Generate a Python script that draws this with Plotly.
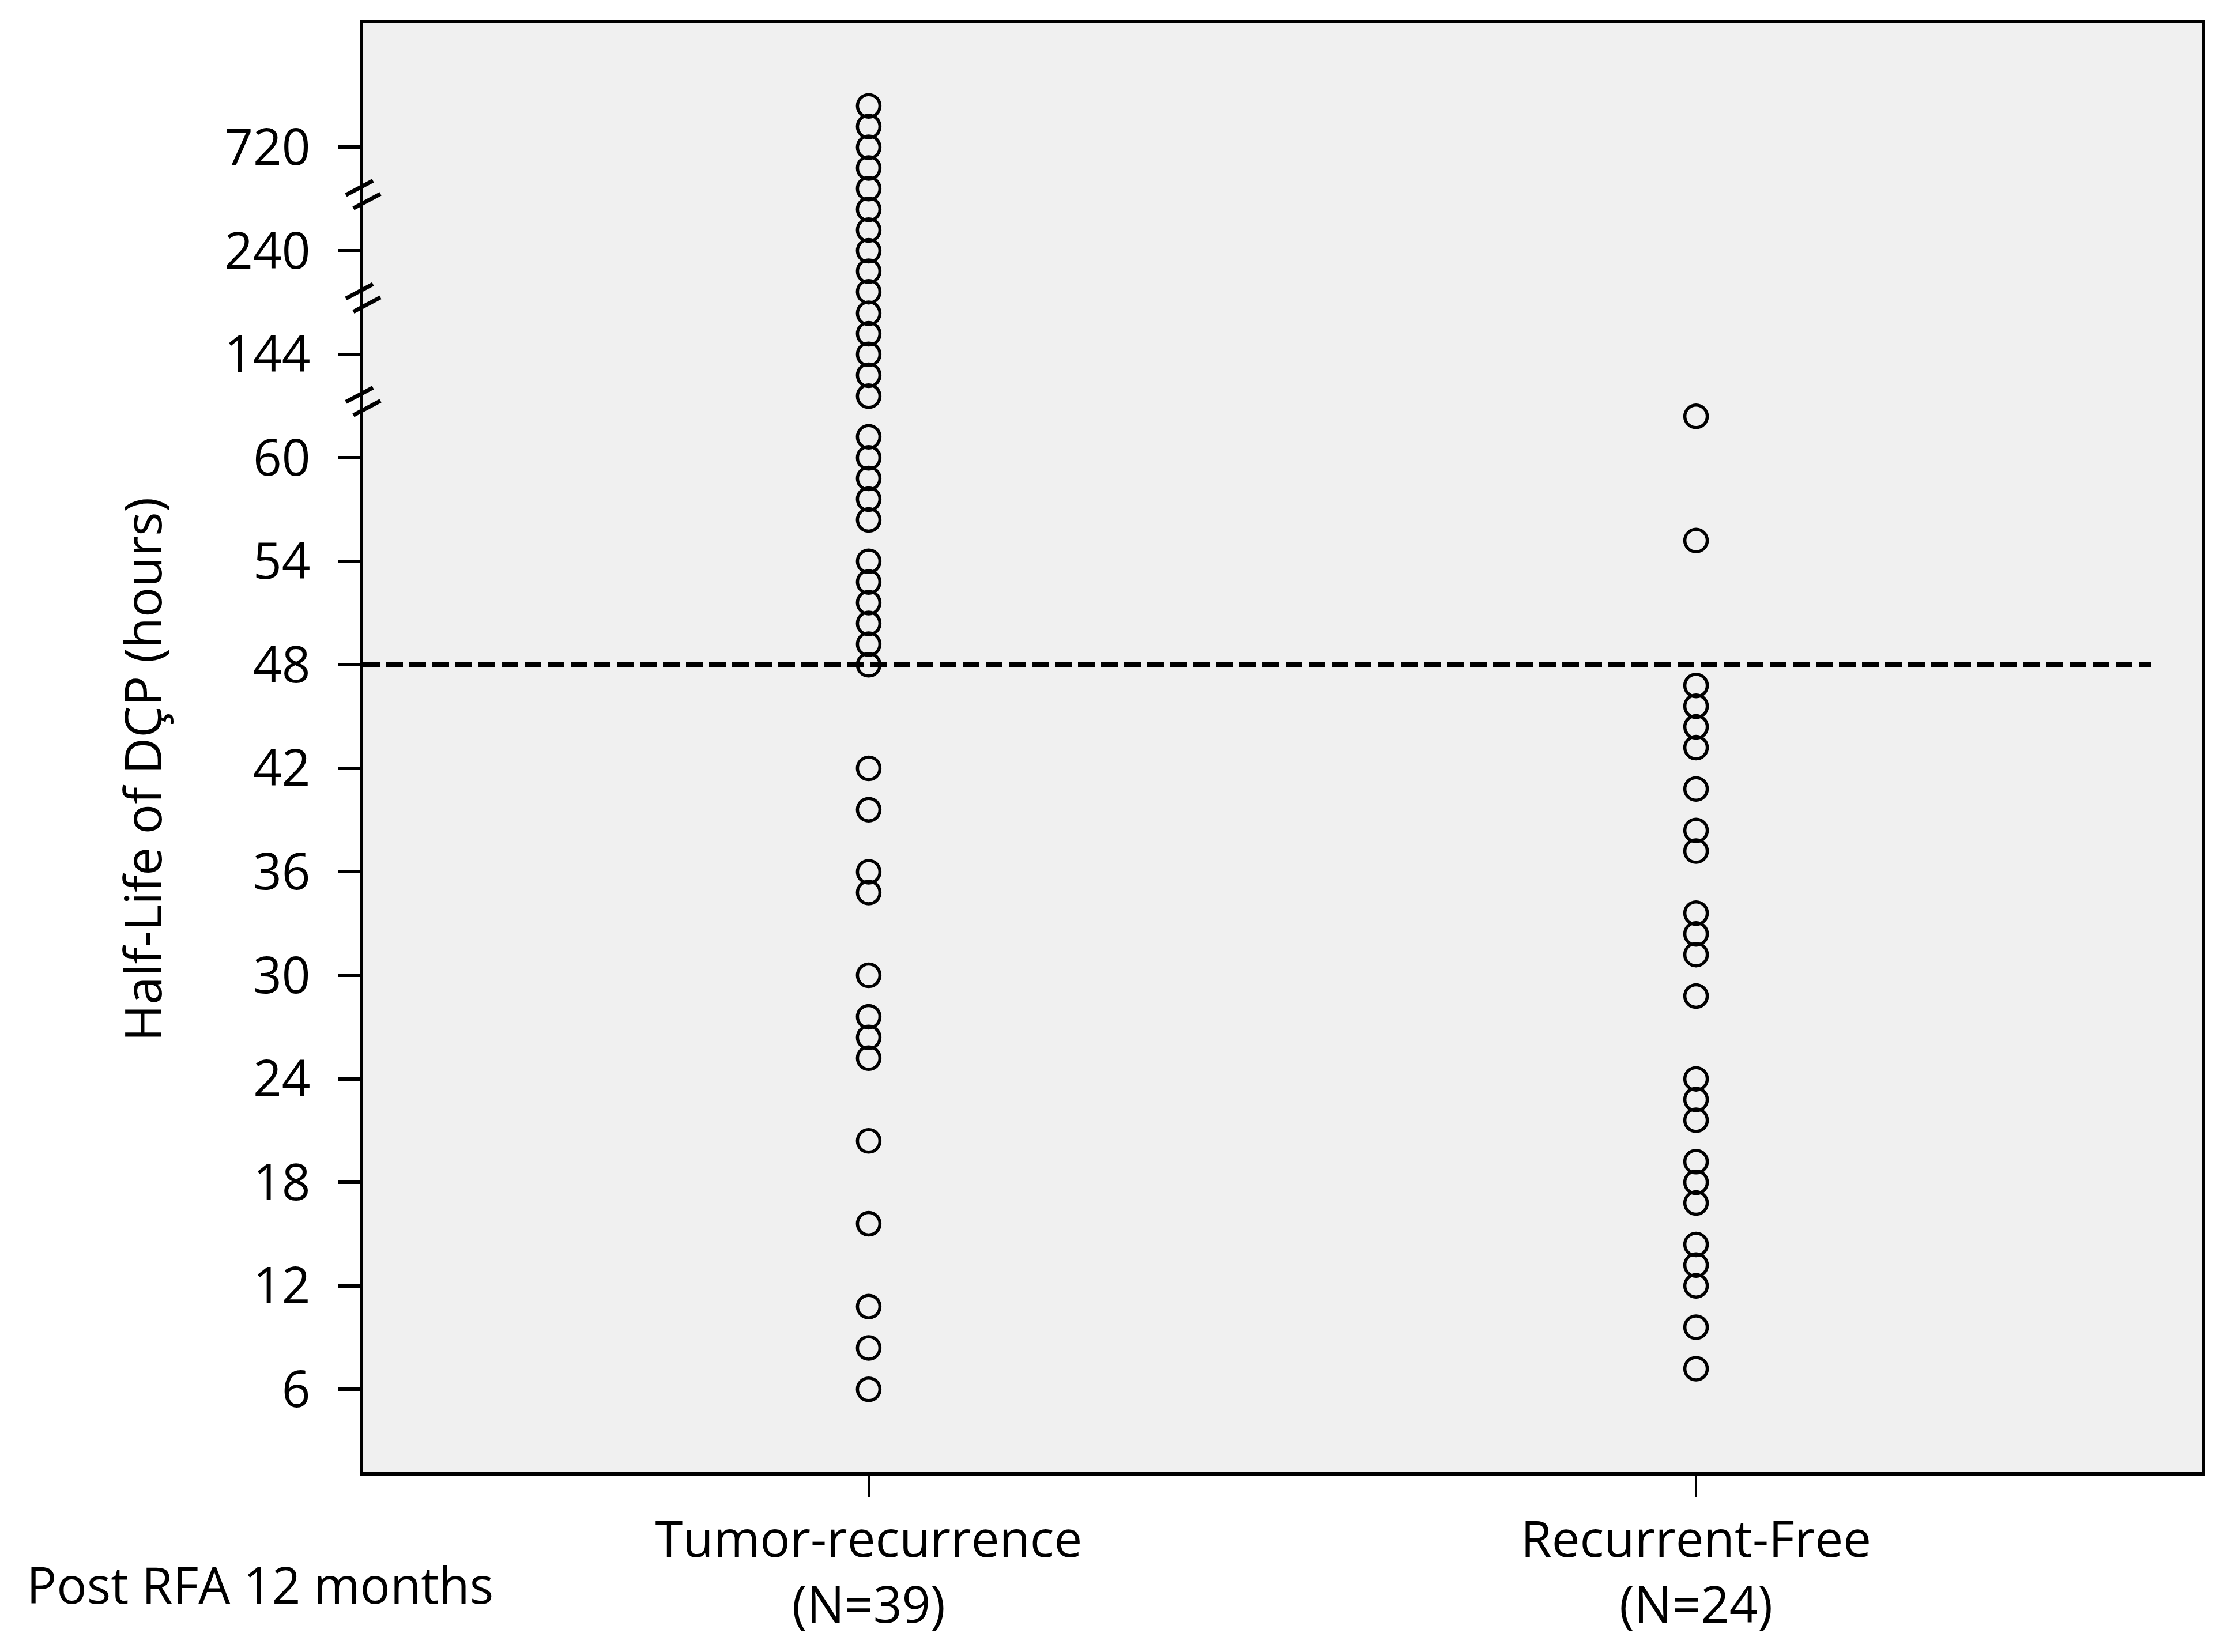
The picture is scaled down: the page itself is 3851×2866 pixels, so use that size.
import numpy as np
import plotly.graph_objects as go

# ---- data ----
categories = ["Tumor-recurrence<br>(N=39)", "Recurrent-Free<br>(N=24)"]
tick_values = [6, 12, 18, 24, 30, 36, 42, 48, 54, 60, 144, 240, 720]
tick_labels = ["6", "12", "18", "24", "30", "36", "42", "48", "54", "60", "144", "240", "720"]

tumor_recurrence = [912, 816, 720, 624, 528, 432, 336, 240, 221, 202, 182, 163, 144, 127, 110,
                    77, 60, 58.8, 57.6, 56.4,
                    54, 52.8, 51.6, 50.4, 49.2, 48,
                    42, 39.6, 36, 34.8, 30, 27.6, 26.4, 25.2, 20.4, 15.6, 10.8, 8.4, 6]
recurrent_free = [93.6, 55.2, 46.8, 45.6, 44.4, 43.2, 40.8, 38.4, 37.2, 33.6, 32.4, 31.2, 28.8,
                  24, 22.8, 21.6, 19.2, 18, 16.8, 14.4, 13.2, 12, 9.6, 7.2]
cutoff = 48
break_between = [(60, 144), (144, 240), (240, 720)]

# ---- broken-axis scale: each labelled tick is one equal step ----
tick_pos = np.arange(1, len(tick_values) + 1, dtype=float)
tv = np.array(tick_values, dtype=float)


def to_pos(vals):
    vals = np.asarray(vals, dtype=float)
    p = np.interp(vals, tv, tick_pos)
    hi = vals > tv[-1]
    p[hi] = tick_pos[-1] + (vals[hi] - tv[-1]) / (tv[-1] - tv[-2])
    return p


FONT = "Open Sans"
FS = 87

fig = go.Figure()
for xi, vals in enumerate([tumor_recurrence, recurrent_free]):
    fig.add_trace(go.Scatter(
        x=[xi] * len(vals), y=to_pos(vals), mode="markers",
        marker=dict(symbol="circle-open", size=39, color="black",
                    line=dict(width=5.5, color="black")),
        showlegend=False, hoverinfo="y"))

W, H = 3851, 2866
ml, mr, mt, mb = 622, 40, 32, 320
pw, ph = W - ml - mr, H - mt - mb
x_range = [-0.611, 1.611]
y_range = [0.2, 14.2]
ypx = ph / (y_range[1] - y_range[0])

shapes = []
# cutoff dashed line
ycut = float(to_pos([cutoff])[0])
shapes.append(dict(type="line", xref="x", yref="y", x0=x_range[0], x1=1.55,
                   y0=ycut, y1=ycut,
                   line=dict(color="black", width=9, dash="29px,11px"), layer="above"))
# axis break marks (two short parallel slanted strokes), offsets in pixels (up positive)
strokes = [((-30, -2), (17, 23)), ((-17, -25), (30, 0))]
for lo, hi in break_between:
    yc = float(np.mean(to_pos([lo, hi]))) + 0.05
    for (px0, py0), (px1, py1) in strokes:
        shapes.append(dict(type="line", xref="paper", yref="y",
                           x0=px0 / pw, x1=px1 / pw,
                           y0=yc + py0 / ypx, y1=yc + py1 / ypx,
                           line=dict(color="black", width=7)))

fig.update_layout(
    width=W, height=H,
    margin=dict(l=ml, r=mr, t=mt, b=mb),
    paper_bgcolor="white", plot_bgcolor="#f0f0f0",
    font=dict(family=FONT, size=FS, color="black"),
    shapes=shapes,
    xaxis=dict(range=x_range, tickvals=[0, 1], ticktext=categories,
               showgrid=False, zeroline=False, showline=True, mirror=True,
               linecolor="black", linewidth=6, ticks="outside", ticklen=37,
               tickwidth=4, tickcolor="black", automargin=False,
               tickfont=dict(family=FONT, size=FS, color="black")),
    yaxis=dict(range=y_range, tickvals=list(tick_pos), ticktext=tick_labels,
               showgrid=False, zeroline=False, showline=True, mirror=True,
               linecolor="black", linewidth=6, ticks="outside", ticklen=37,
               tickwidth=6, tickcolor="black", automargin=False,
               ticklabelstandoff=31,
               tickfont=dict(family=FONT, size=FS, color="black")),
    annotations=[
        dict(text="Half-Life of DÇP (hours)", xref="paper", yref="paper",
             x=(238 - ml) / pw, y=(H - mb - 1327) / ph, xanchor="center", yanchor="middle",
             textangle=-90, showarrow=False, font=dict(family=FONT, size=FS, color="black")),
        dict(text="Post RFA 12 months", xref="paper", yref="paper",
             x=(36 - ml) / pw, y=(H - mb - 2740) / ph, xanchor="left", yanchor="middle",
             showarrow=False, font=dict(family=FONT, size=FS, color="black")),
    ],
)

fig.write_html("out.html")
